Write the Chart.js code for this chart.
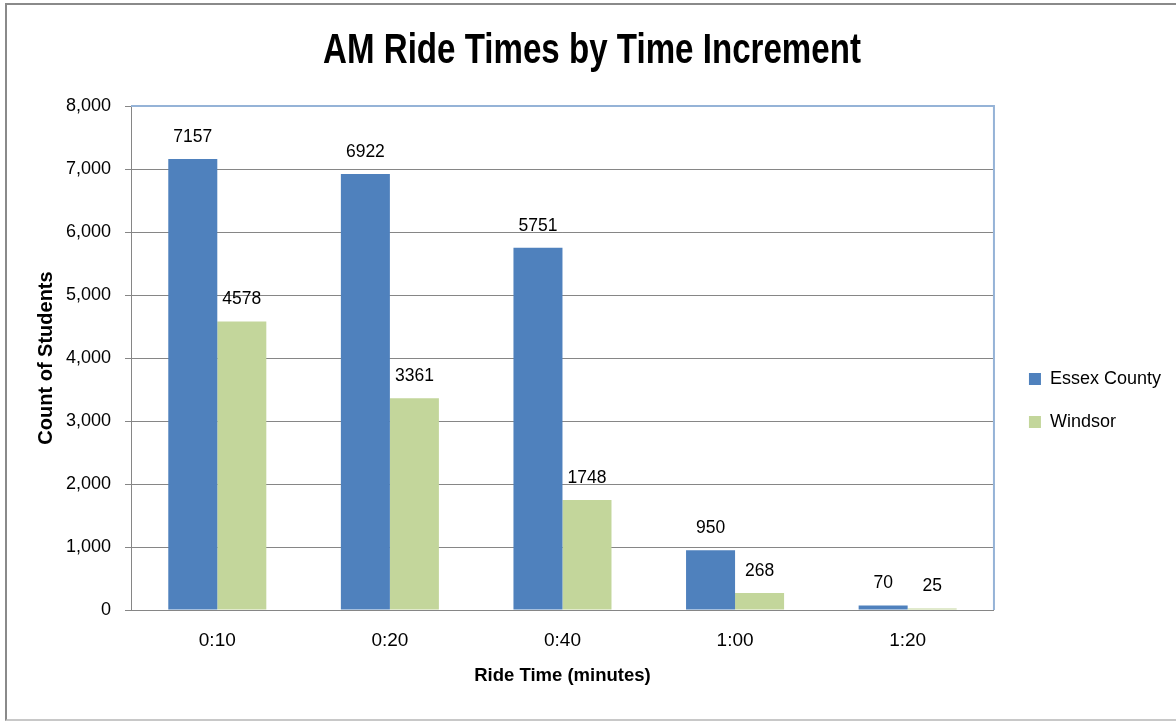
<!DOCTYPE html>
<html><head><meta charset="utf-8">
<script src="https://cdn.jsdelivr.net/npm/chart.js@4.4.0/dist/chart.umd.min.js"></script>
<style>
html,body{margin:0;padding:0;background:#fff;}
#wrap{position:relative;width:1176px;height:721px;overflow:hidden;}
#frame{position:absolute;left:5px;top:3px;width:1200px;height:718px;border-left:2px solid #8a8a8a;border-top:2px solid #8a8a8a;border-bottom:2px solid #c8c8c8;box-sizing:border-box;}
canvas{position:absolute;left:0;top:0;}
</style></head>
<body><div id="wrap"><div id="frame"></div><canvas id="c" width="1176" height="721"></canvas></div>
<script>
const categories = ['0:10', '0:20', '0:40', '1:00', '1:20'];
const essexCounty = [7157, 6922, 5751, 950, 70];
const windsor = [4578, 3361, 1748, 268, 25];
const seriesNames = ['Essex County', 'Windsor'];
const titleText = 'AM Ride Times by Time Increment';
const yMin = 0, yMax = 8000, yStep = 1000;

const FONT = "'Liberation Sans', Arial, sans-serif";

// Chart title drawn condensed (narrow face is not installed)
const condensedTitle = {
  id: 'condensedTitle',
  afterDraw(chart) {
    const ctx = chart.ctx;
    ctx.save();
    ctx.translate(chart.width / 2 + 4, 51);
    ctx.scale(0.77, 1);
    ctx.font = 'bold 43px ' + FONT;
    ctx.fillStyle = '#000';
    ctx.textAlign = 'center';
    ctx.textBaseline = 'middle';
    ctx.fillText(titleText, 0, 0);
    ctx.restore();
  }
};

const dataLabels = {
  id: 'dataLabels',
  afterDatasetsDraw(chart) {
    const ctx = chart.ctx;
    ctx.save();
    ctx.font = '17.5px ' + FONT;
    ctx.fillStyle = '#000';
    ctx.textAlign = 'center';
    ctx.textBaseline = 'middle';
    chart.data.datasets.forEach((ds, i) => {
      chart.getDatasetMeta(i).data.forEach((bar, j) => {
        ctx.fillText(String(ds.data[j]), bar.x, bar.y - 22);
      });
    });
    ctx.restore();
  }
};

const plotFrame = {
  id: 'plotFrame',
  beforeDatasetsDraw(chart) {
    const a = chart.chartArea, ctx = chart.ctx;
    ctx.save();
    ctx.strokeStyle = '#95B3D7';
    ctx.lineWidth = 2;
    ctx.beginPath();
    ctx.moveTo(a.left, a.top);
    ctx.lineTo(a.right, a.top);
    ctx.lineTo(a.right, a.bottom);
    ctx.stroke();
    ctx.restore();
  }
};

const legendShift = {
  id: 'legendShift',
  afterLayout(chart) {
    const l = chart.legend;
    const dx = 10;
    l.left += dx; l.right += dx;
    l.top = 106; l.bottom = 695;
  }
};

new Chart(document.getElementById('c'), {
  type: 'bar',
  data: {
    labels: categories,
    datasets: [
      { label: seriesNames[0], data: essexCounty, backgroundColor: '#4F81BD', categoryPercentage: 0.568, barPercentage: 1 },
      { label: seriesNames[1], data: windsor, backgroundColor: '#C3D69B', categoryPercentage: 0.568, barPercentage: 1 }
    ]
  },
  options: {
    responsive: false,
    animation: false,
    layout: { padding: { left: 30, right: 15, top: 106, bottom: 0 } },
    plugins: {
      title: { display: false },
      legend: {
        position: 'right',
        labels: {
          boxWidth: 12, boxHeight: 12, padding: 25,
          font: { family: FONT, size: 18 },
          color: '#000'
        }
      },
      tooltip: { enabled: false }
    },
    scales: {
      x: {
        grid: { display: false, drawTicks: false },
        border: { display: true, color: '#868686', width: 1 },
        ticks: { font: { family: FONT, size: 19 }, color: '#000', padding: 19 },
        title: {
          display: true, text: 'Ride Time (minutes)',
          font: { family: FONT, size: 18.5, weight: 'bold' }, color: '#000',
          padding: { top: 0, bottom: 34 }
        },
        afterFit(s) { s.height = 111; }
      },
      y: {
        min: yMin, max: yMax,
        ticks: {
          stepSize: yStep,
          font: { family: FONT, size: 18 }, color: '#000', padding: 14,
          callback: v => Number(v).toLocaleString('en-US')
        },
        grid: { color: '#868686', tickLength: 6, drawTicks: true },
        border: { display: true, color: '#868686', width: 1 },
        title: {
          display: true, text: 'Count of Students',
          font: { family: FONT, size: 20, weight: 'bold' }, color: '#000',
          padding: { top: 4, bottom: 0 }
        },
        afterFit(s) { s.width = 101; }
      }
    }
  },
  plugins: [dataLabels, plotFrame, legendShift, condensedTitle]
});
</script>
</body></html>
